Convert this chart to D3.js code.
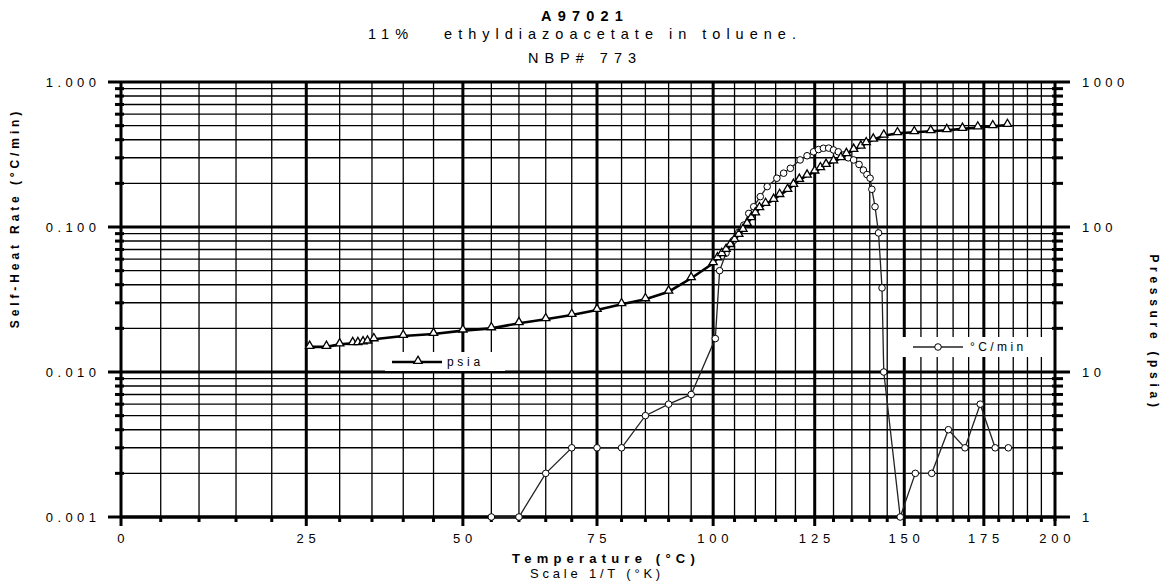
<!DOCTYPE html>
<html><head><meta charset="utf-8">
<script src="https://cdn.jsdelivr.net/npm/d3@7"></script>
<style>
body{margin:0;background:#fff}
svg{display:block}
text{font-family:"Liberation Sans",Arial,Helvetica,sans-serif;fill:#000}
</style>
</head><body>
<svg id="c" width="1174" height="588"></svg>
<script>
// ---- data ----
const titleLines = ["A97021", "11%   ethyldiazoacetate in toluene.", "NBP# 773"];
const xTicks = [0, 25, 50, 75, 100, 125, 150, 175, 200];
const leftTicks = [0.001, 0.01, 0.1, 1];
const leftTickLabels = ["0.001", "0.010", "0.100", "1.000"];
const rightTicks = [1, 10, 100, 1000];
const rightTickLabels = ["1", "10", "100", "1000"];

const psiaT = [25.5,28,30,32,32.8,33.6,34.3,35.3,40,45,
  50,55,60,65,70,75,80,85,90,95,100,
  101,102,103,104,105,106,107,108,109,110,111,
  112.5,114.5,116,118,119.5,121,123,125,126.5,128,
  130,132,133.5,135.5,137.5,139,141,144,
  148,153,158,163,168,173,178,183];
const psiaP = [14.9,14.9,15.5,15.8,15.8,16.0,16.2,16.8,17.7,18.3,
  19.3,20.0,21.7,23.1,24.7,26.8,29.3,31.7,35.8,44.3,56.2,
  60.8,65,69.4,75,81.3,88,95.3,105,114.8,124,134.6,
  144,153.6,166,180,195,211,226,241,254,268,
  283,298,318,340,358,378,400,426,
  443,450,458,465,475,485,495,505];

const rateT = [55,60,65,70,75,80,85,90,95,
  100.5,101.5,103,104.8,106,107.2,108.4,109.6,111.2,112.9,
  115.3,117,118.7,121.2,123,124.7,126,127.3,128.7,130,
  131.3,132.7,134,135.5,137,138.2,139.2,140.1,140.6,141.5,
  142.5,143.5,144,148.8,153.3,158.3,163.5,168.8,173.8,178.8,183.3];
const rateV = [0.001,0.001,0.002,0.003,0.003,0.003,0.005,0.006,0.007,
  0.017,0.050,0.066,0.081,0.092,0.103,0.124,0.138,0.162,0.190,
  0.217,0.235,0.254,0.290,0.31,0.330,0.342,0.349,0.35,0.340,
  0.33,0.314,0.30,0.290,0.27,0.247,0.23,0.217,0.182,0.138,
  0.091,0.038,0.010,0.001,0.002,0.002,0.004,0.003,0.006,0.003,0.003];

// ---- layout ----
const L = 121, R = 1055, T = 82, B = 517;
const svg = d3.select("#c");
svg.append("rect").attr("width",1174).attr("height",588).attr("fill","#fff");

// x axis: linear in 1/T(K)
const xInv = d3.scaleLinear().domain([1/273.15, 1/473.15]).range([L, R]);
const x = t => xInv(1/(t + 273.15));
const yL = d3.scaleLog().domain([0.001, 1]).range([B, T]);
const yR = d3.scaleLog().domain([1, 1000]).range([B, T]);

const g = svg.append("g");
const isDecade = v => Math.abs(Math.log10(v) - Math.round(Math.log10(v))) < 1e-9;

// horizontal grid
const hVals = [];
[0.001, 0.01, 0.1].forEach(d => { for (let m = 1; m <= 9; m++) hVals.push(d*m); });
hVals.push(1);
hVals.forEach(v => {
  g.append("line").attr("x1", L).attr("x2", R).attr("y1", yL(v)).attr("y2", yL(v))
    .attr("stroke", "#000").attr("stroke-width", isDecade(v) ? 3 : 1.4);
});
// vertical grid every 5 C
d3.range(5, 200, 5).forEach(t => {
  const major = t % 25 === 0;
  g.append("line").attr("x1", x(t)).attr("x2", x(t)).attr("y1", T).attr("y2", B)
    .attr("stroke", "#000").attr("stroke-width", major ? 3 : 1.3);
});

// axes lines
g.append("line").attr("x1", L).attr("x2", L).attr("y1", T).attr("y2", B).attr("stroke","#000").attr("stroke-width",3);
g.append("line").attr("x1", R).attr("x2", R).attr("y1", T).attr("y2", B+4).attr("stroke","#000").attr("stroke-width",3);
g.append("line").attr("x1", L).attr("x2", R).attr("y1", B).attr("y2", B).attr("stroke","#000").attr("stroke-width",3);

// left ticks
hVals.forEach(v => {
  if (isDecade(v)) g.append("line").attr("x1", L-13).attr("x2", L).attr("y1", yL(v)).attr("y2", yL(v)).attr("stroke","#000").attr("stroke-width",3);
  else g.append("line").attr("x1", L-6).attr("x2", L+3).attr("y1", yL(v)).attr("y2", yL(v)).attr("stroke","#000").attr("stroke-width",3);
});
// right ticks
hVals.forEach(v => {
  if (isDecade(v)) g.append("line").attr("x1", R).attr("x2", R+15).attr("y1", yL(v)).attr("y2", yL(v)).attr("stroke","#000").attr("stroke-width",3);
  else g.append("line").attr("x1", R-3).attr("x2", R+8).attr("y1", yL(v)).attr("y2", yL(v)).attr("stroke","#000").attr("stroke-width",3);
});
// bottom ticks
d3.range(0, 205, 5).forEach(t => {
  const major = t % 25 === 0;
  g.append("line").attr("x1", x(t)).attr("x2", x(t)).attr("y1", B).attr("y2", B + (major ? 9 : 5))
    .attr("stroke","#000").attr("stroke-width", 3);
});

// tick labels
const ls = 4.4;
leftTicks.forEach((v,i) => {
  svg.append("text").attr("x", 96 + ls).attr("y", yL(v)+4.5).attr("text-anchor","end")
    .attr("font-size",13).attr("letter-spacing",ls).text(leftTickLabels[i]);
});
rightTicks.forEach((v,i) => {
  svg.append("text").attr("x", 1082).attr("y", yR(v)+4.5).attr("text-anchor","start")
    .attr("font-size",13).attr("letter-spacing",ls).text(rightTickLabels[i]);
});
xTicks.forEach(t => {
  svg.append("text").attr("x", x(t)+ls/2).attr("y", 543).attr("text-anchor","middle")
    .attr("font-size",13).attr("letter-spacing",ls+0.4).text(String(t));
});

// titles
const tY = [21, 39, 63];
const tSize = [14.5, 14.5, 14.5];
const tLs = [6.2, 6, 6];
titleLines.forEach((s,i) => {
  svg.append("text").attr("x", 582 + tLs[i]/2).attr("y", tY[i]).attr("text-anchor","middle")
    .attr("font-size", tSize[i]).attr("font-weight", i===0 ? "bold" : "normal")
    .attr("letter-spacing", tLs[i]).style("white-space","pre").text(s);
});
svg.append("text").attr("x", 606).attr("y", 563).attr("text-anchor","middle")
  .attr("font-size",13).attr("font-weight","bold").attr("letter-spacing",5.2).text("Temperature (°C)");
svg.append("text").attr("x", 597).attr("y", 578).attr("text-anchor","middle")
  .attr("font-size",13).attr("letter-spacing",3.8).text("Scale 1/T (°K)");
svg.append("text").attr("transform","translate(19,218) rotate(-90)").attr("text-anchor","middle")
  .attr("font-size",12).attr("font-weight","bold").attr("letter-spacing",3.9).text("Self-Heat Rate (°C/min)");
svg.append("text").attr("transform","translate(1150,333) rotate(90)").attr("text-anchor","middle")
  .attr("font-size",12).attr("font-weight","bold").attr("letter-spacing",4.7).text("Pressure (psia)");

// series
const tri = d3.symbol().type(d3.symbolTriangle).size(30);
const psiaData = psiaT.map((t,i) => [t, psiaP[i]]);
const rateData = rateT.map((t,i) => [t, rateV[i]]);

svg.append("path").datum(rateData)
  .attr("d", d3.line().x(d => x(d[0])).y(d => yL(d[1])))
  .attr("fill","none").attr("stroke","#222").attr("stroke-width",1.3);
svg.selectAll(".rc").data(rateData).enter().append("circle")
  .attr("cx", d => x(d[0])).attr("cy", d => yL(d[1])).attr("r", 3.3)
  .attr("fill","#fff").attr("stroke","#000").attr("stroke-width",1);

svg.append("path").datum(psiaData)
  .attr("d", d3.line().x(d => x(d[0])).y(d => yR(d[1])))
  .attr("fill","none").attr("stroke","#000").attr("stroke-width",2.6);
svg.selectAll(".pt").data(psiaData).enter().append("path")
  .attr("d", tri).attr("transform", d => `translate(${x(d[0])},${yR(d[1])-1})`)
  .attr("fill","#fff").attr("stroke","#000").attr("stroke-width",1.3);

// legends
svg.append("rect").attr("x",385).attr("y",352).attr("width",120).attr("height",19).attr("fill","#fff");
svg.append("line").attr("x1",392).attr("x2",442).attr("y1",362).attr("y2",362).attr("stroke","#000").attr("stroke-width",2.6);
svg.append("path").attr("d",tri).attr("transform","translate(418,361)").attr("fill","#fff").attr("stroke","#000").attr("stroke-width",1.3);
svg.append("text").attr("x",447).attr("y",366).attr("font-size",12).attr("letter-spacing",3.7).text("psia");

svg.append("rect").attr("x",902).attr("y",337).attr("width",150).attr("height",20).attr("fill","#fff");
svg.append("line").attr("x1",913).attr("x2",963).attr("y1",347).attr("y2",347).attr("stroke","#222").attr("stroke-width",1.3);
svg.append("circle").attr("cx",938).attr("cy",347).attr("r",3.3).attr("fill","#fff").attr("stroke","#000");
svg.append("text").attr("x",970).attr("y",351).attr("font-size",12).attr("letter-spacing",3.4).text("°C/min");
</script>
</body></html>
